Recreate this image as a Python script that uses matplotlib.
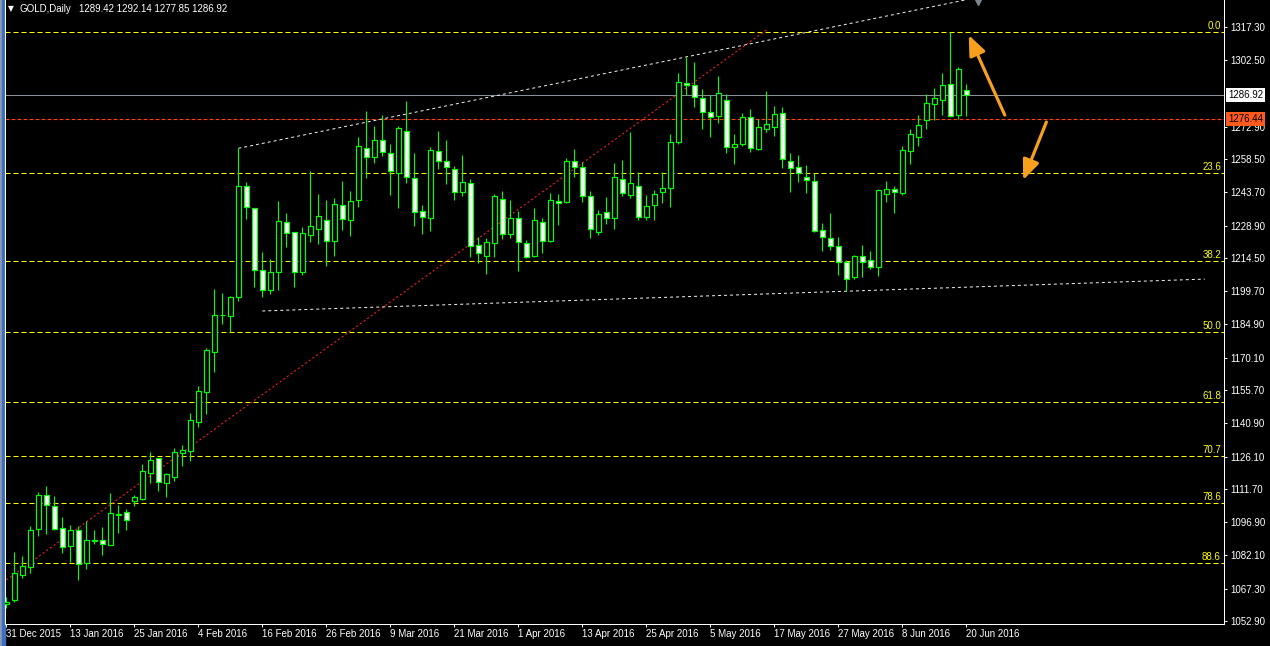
import matplotlib
matplotlib.use("Agg")
import matplotlib.pyplot as plt
import matplotlib.transforms as mtransforms
from matplotlib.patches import Rectangle, FancyArrowPatch, ArrowStyle

plt.rcParams['font.family'] = ['Liberation Sans', 'DejaVu Sans']
plt.rcParams['lines.scale_dashes'] = False

# ---------------- data (GOLD daily, 31 Dec 2015 - 21 Jun 2016) ----------------
opens = [1060.5, 1062.3, 1073.5, 1077.1, 1094.0, 1108.9, 1104.1, 1094.2, 1086.4, 1093.3,
         1078.9, 1088.7, 1088.8, 1086.9, 1100.3, 1101.3, 1106.3, 1107.3, 1118.9, 1125.3,
         1114.5, 1117.1, 1127.8, 1128.7, 1141.6, 1155.0, 1172.8, 1188.9, 1188.8, 1197.0,
         1246.4, 1236.6, 1209.0, 1200.2, 1208.4, 1230.4, 1225.9, 1208.4, 1224.9, 1227.5,
         1231.3, 1222.2, 1237.9, 1231.5, 1240.2, 1263.3, 1259.6, 1266.9, 1261.1, 1252.5,
         1270.9, 1250.0, 1235.3, 1232.4, 1262.0, 1257.5, 1254.0, 1243.7, 1247.7, 1220.1,
         1215.5, 1221.3, 1240.6, 1225.0, 1232.2, 1221.0, 1215.5, 1230.6, 1222.2, 1239.9,
         1239.5, 1257.5, 1254.9, 1242.0, 1226.2, 1234.8, 1232.2, 1249.5, 1242.4, 1246.4,
         1232.9, 1237.9, 1243.7, 1245.5, 1266.0, 1292.2, 1291.4, 1285.6, 1279.3, 1277.6,
         1284.7, 1263.8, 1265.4, 1277.4, 1263.1, 1271.8, 1272.9, 1278.9, 1257.5, 1254.9,
         1250.7, 1248.6, 1226.8, 1223.3, 1219.7, 1212.6, 1205.9, 1215.2, 1213.5, 1210.6,
         1242.8, 1245.1, 1243.6, 1262.0, 1268.5, 1275.9, 1282.9, 1284.7, 1291.8, 1278.1,
         1289.42]
highs = [1063.6, 1083.5, 1081.8, 1095.2, 1110.3, 1113.0, 1108.6, 1099.2, 1095.6, 1095.2,
         1097.4, 1093.4, 1094.8, 1109.9, 1104.5, 1102.6, 1109.0, 1122.8, 1128.1, 1125.6,
         1118.6, 1129.8, 1131.3, 1145.5, 1157.5, 1174.3, 1200.7, 1198.9, 1197.7, 1263.3,
         1248.5, 1236.9, 1217.0, 1213.9, 1239.7, 1234.4, 1226.2, 1228.3, 1253.2, 1243.0,
         1240.3, 1241.2, 1248.8, 1244.3, 1268.3, 1279.9, 1273.2, 1278.1, 1265.2, 1273.2,
         1284.4, 1261.1, 1237.9, 1263.9, 1270.9, 1266.9, 1255.4, 1260.3, 1249.5, 1223.8,
         1223.4, 1242.8, 1244.3, 1240.3, 1235.4, 1222.5, 1236.6, 1232.2, 1243.3, 1243.0,
         1259.0, 1263.0, 1257.1, 1244.3, 1235.9, 1241.6, 1256.8, 1258.1, 1270.4, 1252.6,
         1242.4, 1244.6, 1252.6, 1269.5, 1296.8, 1304.0, 1301.7, 1289.6, 1286.9, 1295.5,
         1287.5, 1269.5, 1278.9, 1280.7, 1276.2, 1288.8, 1282.0, 1281.6, 1261.1, 1260.2,
         1255.7, 1252.2, 1229.9, 1234.4, 1223.7, 1213.6, 1215.8, 1220.3, 1217.5, 1245.0,
         1248.6, 1246.7, 1264.3, 1271.9, 1278.1, 1287.5, 1290.0, 1297.0, 1315.2, 1299.6,
         1292.14]
lows = [1058.7, 1061.5, 1072.1, 1074.4, 1090.9, 1091.6, 1093.4, 1083.2, 1079.2, 1071.2,
        1076.1, 1087.3, 1082.3, 1086.7, 1092.2, 1093.4, 1104.0, 1106.8, 1114.5, 1110.9,
        1108.2, 1115.4, 1121.9, 1124.1, 1139.4, 1145.1, 1163.9, 1185.2, 1181.4, 1195.5,
        1231.8, 1201.7, 1197.1, 1198.5, 1200.2, 1219.5, 1201.7, 1206.9, 1221.6, 1220.7,
        1210.9, 1215.5, 1227.1, 1224.4, 1237.3, 1250.2, 1256.6, 1260.0, 1242.7, 1236.9,
        1247.9, 1228.9, 1225.3, 1226.5, 1254.1, 1247.4, 1240.4, 1242.2, 1215.1, 1212.1,
        1207.5, 1215.1, 1222.9, 1223.5, 1208.8, 1214.4, 1214.8, 1216.6, 1221.8, 1229.3,
        1239.0, 1250.7, 1239.5, 1223.5, 1224.7, 1229.8, 1227.5, 1242.2, 1241.1, 1231.4,
        1231.4, 1231.4, 1238.8, 1237.3, 1265.1, 1286.9, 1281.8, 1271.8, 1268.5, 1274.4,
        1261.1, 1256.3, 1264.5, 1261.5, 1262.6, 1270.7, 1268.9, 1254.7, 1243.7, 1248.5,
        1243.3, 1226.2, 1217.7, 1218.0, 1206.8, 1199.8, 1205.1, 1205.9, 1209.5, 1206.6,
        1239.5, 1234.7, 1242.5, 1256.5, 1264.3, 1272.0, 1275.9, 1278.1, 1277.4, 1276.2,
        1277.85]
closes = [1061.4, 1074.4, 1077.4, 1093.3, 1108.9, 1104.4, 1094.0, 1086.0, 1093.3, 1078.2,
          1088.8, 1089.0, 1087.0, 1100.9, 1100.5, 1097.7, 1108.1, 1119.7, 1124.6, 1114.9,
          1118.3, 1128.1, 1128.9, 1142.4, 1155.3, 1173.5, 1189.0, 1189.1, 1197.1, 1246.4,
          1237.3, 1209.0, 1200.2, 1208.1, 1230.8, 1225.7, 1208.4, 1225.5, 1228.6, 1233.0,
          1222.2, 1238.4, 1232.0, 1239.7, 1264.2, 1259.3, 1266.9, 1261.5, 1253.1, 1272.2,
          1250.4, 1234.8, 1232.6, 1262.4, 1257.5, 1255.1, 1243.7, 1248.2, 1219.8, 1216.8,
          1221.5, 1242.0, 1225.0, 1232.2, 1221.7, 1215.1, 1231.3, 1222.2, 1240.2, 1239.0,
          1257.5, 1255.1, 1242.2, 1227.5, 1233.9, 1232.2, 1250.4, 1243.6, 1247.7, 1232.6,
          1237.5, 1242.8, 1245.5, 1266.0, 1292.7, 1291.4, 1286.3, 1279.3, 1277.4, 1287.8,
          1263.8, 1265.4, 1277.1, 1263.3, 1272.7, 1274.0, 1278.4, 1258.4, 1254.4, 1252.2,
          1249.1, 1226.6, 1224.0, 1219.7, 1212.6, 1205.0, 1215.2, 1212.6, 1210.6, 1244.6,
          1245.1, 1243.7, 1262.4, 1269.5, 1273.6, 1283.3, 1285.6, 1291.4, 1277.8, 1298.5,
          1286.92]

date_labels = ["31 Dec 2015", "13 Jan 2016", "25 Jan 2016", "4 Feb 2016", "16 Feb 2016",
               "26 Feb 2016", "9 Mar 2016", "21 Mar 2016", "1 Apr 2016", "13 Apr 2016",
               "25 Apr 2016", "5 May 2016", "17 May 2016", "27 May 2016", "8 Jun 2016",
               "20 Jun 2016"]
date_label_bars = [0, 8, 16, 24, 32, 40, 48, 56, 64, 72, 80, 88, 96, 104, 112, 120]

price_ticks = [1317.30, 1302.50, 1272.90, 1258.50, 1243.70, 1228.90, 1214.50, 1199.70,
               1184.90, 1170.10, 1155.70, 1140.90, 1126.10, 1111.70, 1096.90, 1082.10,
               1067.30, 1052.90]

fib_high = 1315.2
fib_low = 1048.3
fib_levels = [0.0, 23.6, 38.2, 50.0, 61.8, 70.7, 78.6, 88.6]

bid_price = 1286.92
alert_price = 1276.44

header_symbol = "GOLD,Daily"
header_ohlc = ["1289.42", "1292.14", "1277.85", "1286.92"]

red_trend = [(0, 1071.2), (95, 1316.0)]
upper_channel = [(29, 1263.3), (85, 1304.0)]
lower_channel = [(32, 1190.9), (149.8, 1205.1)]

arrow_up = [(124.8, 1278.1), (120.3, 1313.7)]
arrow_down = [(130.0, 1275.0), (127.1, 1249.2)]
shift_marker_bar = 121.5

# ---------------- figure ----------------
W, H = 1270, 646
PX = 0.72  # one pixel in points at dpi 100
fig = plt.figure(figsize=(W / 100, H / 100), dpi=100, facecolor='black')
ax = fig.add_axes([5 / W, 22 / H, 1219 / W, 624 / H])
ax.set_facecolor('black')
ax.set_xlim(-0.16, 152.2)
ax.set_ylim(1051.58, 1329.32)

# window border on the left
fig.add_artist(Rectangle((0, 0), 2 / W, 1, transform=fig.transFigure, color='#8d9bb0', zorder=0))
fig.add_artist(Rectangle((2 / W, 0), 3 / W, 1, transform=fig.transFigure, color='#3d6fc2', zorder=0))

green = '#00FF00'
yellow = '#FFFF00'
blend = mtransforms.blended_transform_factory(ax.transAxes, ax.transData)

# fibonacci levels
span = fib_high - fib_low
for lvl in fib_levels:
    p = fib_high - span * lvl / 100.0
    ax.axhline(p, color=yellow, lw=PX, dashes=(5 * PX, 3 * PX), zorder=1)
    ax.text(0.9975, p + 0.4, f"{lvl:.1f}", transform=blend, ha='right', va='bottom',
            color=yellow, fontsize=7, zorder=2, clip_on=True)

# bid & alert lines
ax.axhline(bid_price, color='#8a9098', lw=PX, zorder=1)
ax.axhline(alert_price, color='#FF4010', lw=PX * 1.1, dashes=(4 * PX, 2 * PX), zorder=1)

# trend lines
(x0, y0), (x1, y1) = red_trend
ax.plot([x0, x1], [y0, y1], color='#FF1A1A', lw=PX * 1.1, dashes=(2 * PX, 2.5 * PX), zorder=2)

(x0, y0), (x1, y1) = upper_channel
slope = (y1 - y0) / (x1 - x0)
xe = 152.2
ax.plot([x0, xe], [y0, y0 + slope * (xe - x0)], color='#F0F0F0', lw=PX,
        dashes=(3 * PX, 3 * PX), zorder=2)

(x0, y0), (x1, y1) = lower_channel
ax.plot([x0, x1], [y0, y1], color='#F0F0F0', lw=PX, dashes=(3 * PX, 3 * PX), zorder=2)

# candles
for i, (o, h, l, c) in enumerate(zip(opens, highs, lows, closes)):
    ax.vlines(i, l, h, color=green, lw=PX * 1.1, zorder=3)
    bottom = min(o, c)
    height = abs(c - o)
    face = 'white' if c < o else 'black'
    ax.add_patch(Rectangle((i - 0.3, bottom), 0.6, height, facecolor=face,
                           edgecolor=green, lw=PX * 1.2, zorder=4, snap=True))

# arrows
for (a, b) in (arrow_up, arrow_down):
    ax.add_patch(FancyArrowPatch(a, b, arrowstyle=ArrowStyle('-|>', head_length=1.2, head_width=0.5),
                                 mutation_scale=10, lw=2.3, color='#F8A01E', zorder=6,
                                 shrinkA=0, shrinkB=0))

# chart shift marker
ax.plot([shift_marker_bar], [1 - 2.0 / 624], marker='v', markersize=5, color='#7c8590',
        transform=mtransforms.blended_transform_factory(ax.transData, ax.transAxes),
        clip_on=False, zorder=7, linestyle='none')

# axes styling
for s in ['left', 'right', 'bottom']:
    ax.spines[s].set_color('white')
    ax.spines[s].set_linewidth(PX)
ax.spines['top'].set_visible(False)

ax.yaxis.tick_right()
ax.set_yticks(price_ticks)
ax.set_yticklabels([f"{v:.2f}" for v in price_ticks])
ax.tick_params(axis='y', colors='white', length=3 * PX, width=PX, pad=3 * PX, labelsize=7)

ax.set_xticks(date_label_bars)
ax.set_xticklabels(date_labels, ha='left')
ax.tick_params(axis='x', colors='white', length=3 * PX, width=PX, pad=2 * PX, labelsize=7)

# price boxes on the scale
ax.text(1.0035, bid_price, f"{bid_price:.2f}", transform=blend, ha='left', va='center',
        fontsize=7, color='black', clip_on=False, zorder=10,
        bbox=dict(boxstyle='square,pad=0.2', fc='white', ec='none'))
ax.text(1.0035, alert_price, f"{alert_price:.2f}", transform=blend, ha='left', va='center',
        fontsize=7, color='black', clip_on=False, zorder=10,
        bbox=dict(boxstyle='square,pad=0.2', fc='#FF5A1E', ec='none'))

# header
fig.text(8 / W, 1 - 8.5 / H, "\u25BC", color='white', fontsize=5.5, va='center', ha='left',
         family=['DejaVu Sans'])
fig.text(20 / W, 1 - 8.5 / H, header_symbol, color='white', fontsize=7, va='center', ha='left')
fig.text(79 / W, 1 - 8.5 / H, " ".join(header_ohlc), color='white', fontsize=7, va='center', ha='left')

fig.savefig("out.png", dpi=100, facecolor='black')
